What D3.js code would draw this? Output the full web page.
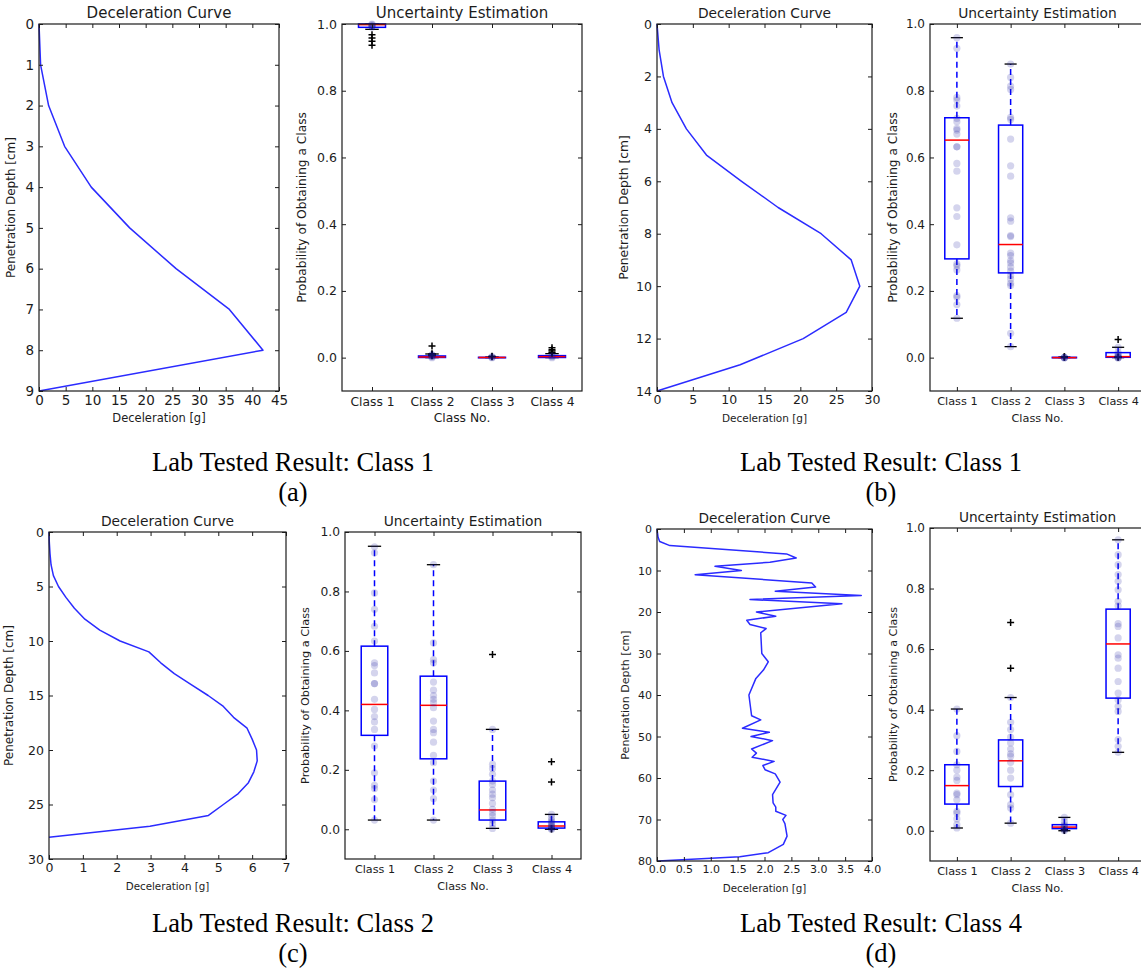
<!DOCTYPE html>
<html>
<head>
<meta charset="utf-8">
<script src="https://cdnjs.cloudflare.com/ajax/libs/d3/7.8.5/d3.min.js"></script>
<style>
  body { margin: 0; background: #fff; }
  .caption { font-family: "Liberation Serif", "Times New Roman", serif; fill: #000; }
</style>
</head>
<body>
<div id="chart"></div>
<script>
// ---- data ----
const classes = ["Class 1", "Class 2", "Class 3", "Class 4"];
const captions = ["Lab Tested Result: Class 1", "Lab Tested Result: Class 1", "Lab Tested Result: Class 2", "Lab Tested Result: Class 4"];
const panelLetters = ["(a)", "(b)", "(c)", "(d)"];

// deceleration curves: depth [cm] vs deceleration [g]
const depthA = [0, 1, 2, 3, 4, 5, 6, 7, 8, 9];
const decelA = [0, 0.3, 1.8, 4.8, 9.8, 17, 25.7, 35.7, 42, 0];

const depthB = [0, 1, 2, 3, 4, 5, 6, 7, 8, 9, 10, 11, 12, 13, 14];
const decelB = [0, 0.3, 0.9, 2.1, 4.1, 6.9, 11.8, 16.9, 22.9, 27.1, 28.3, 26.4, 20.4, 11.6, 0];

const depthC = [0, 1, 2, 3, 4, 5, 6, 7, 8, 9, 10, 11, 12, 13, 14, 15, 16, 17, 18, 19, 20, 21, 22, 23, 24, 25, 26, 27, 28];
const decelC = [0, 0.01, 0.03, 0.06, 0.13, 0.28, 0.5, 0.75, 1.06, 1.5, 2.1, 2.95, 3.3, 3.7, 4.2, 4.7, 5.15, 5.45, 5.85, 6.0, 6.13, 6.15, 6.05, 5.89, 5.59, 5.15, 4.71, 2.98, 0];

const depthD = [0, 2, 3, 4, 6, 7, 8, 9, 10, 11, 13, 14, 15, 16, 17, 18, 20, 21, 22, 23,
                24, 25, 30, 32, 34, 36, 40, 45, 46, 48, 49, 50, 51, 53, 54, 55, 56, 57, 58, 59,
                61, 64, 66, 67, 68, 69, 70, 71, 74, 76, 78, 79, 80];
const decelD = [0, 0.02, 0.05, 0.24, 2.41, 2.59, 2.1, 1.08, 1.57, 0.71, 2.88, 2.95, 2.2, 3.8, 1.73, 3.44, 1.85, 2.21, 1.67, 1.73,
                2.03, 1.93, 1.95, 2.07, 1.98, 1.84, 1.71, 1.76, 1.93, 1.59, 2.09, 1.75, 2.15, 1.76, 1.85, 1.77, 2.18, 1.97, 2.01, 2.2,
                2.29, 2.15, 2.16, 2.21, 2.21, 2.40, 2.34, 2.38, 2.42, 2.35, 2.07, 1.54, 0.02];

// box stats per class: [lower whisker, q1, median, q3, upper whisker]
const boxA = [[0.984, 0.990, 0.998, 1.0, 1.0], [0, 0.0005, 0.002, 0.005, 0.011], [0, 0, 0.0005, 0.001, 0.002], [0, 0.0005, 0.003, 0.006, 0.012]];
const boxB = [[0.118, 0.296, 0.652, 0.719, 0.959], [0.033, 0.254, 0.339, 0.697, 0.88], [0, 0, 0, 0.001, 0.002], [0, 0.001, 0.003, 0.015, 0.031]];
const boxC = [[0.031, 0.316, 0.42, 0.616, 0.952], [0.031, 0.237, 0.417, 0.515, 0.89], [0.003, 0.031, 0.065, 0.162, 0.336], [0, 0.004, 0.011, 0.025, 0.05]];
const boxD = [[0.009, 0.088, 0.149, 0.218, 0.402], [0.025, 0.146, 0.231, 0.3, 0.44], [0, 0.007, 0.012, 0.02, 0.044], [0.259, 0.438, 0.617, 0.732, 0.961]];

// outliers ('+')
const fliersA = [[0.968, 0.958, 0.948, 0.936], [0.035, 0.012, 0.01, 0.008, 0.006], [0.004, 0.003], [0.03, 0.024, 0.02, 0.015, 0.013]];
const fliersB = [[], [], [0.003, 0.002, 0.001], [0.054, 0.002, 0.001]];
const fliersC = [[], [], [0.588], [0.227, 0.159, 0.002, 0.001]];
const fliersD = [[], [0.688, 0.537], [0.003, 0.002, 0.001], []];

// individual samples (faint dots)
const samplesA = [[0.994, 0.994, 0.994, 0.998, 1.0, 0.99], [0, 0.002, 0.005, 0.008, 0.008], [0, 0.001, 0.003], [0, 0.003, 0.006]];
const samplesB = [
  [0.959, 0.927, 0.78, 0.772, 0.754, 0.717, 0.707, 0.687, 0.682, 0.67, 0.632, 0.632, 0.582, 0.559, 0.449, 0.423, 0.338, 0.281, 0.275, 0.263, 0.186, 0.181, 0.159, 0.118],
  [0.88, 0.84, 0.814, 0.804, 0.72, 0.714, 0.655, 0.575, 0.544, 0.419, 0.409, 0.366, 0.363, 0.313, 0.306, 0.291, 0.284, 0.271, 0.259, 0.246, 0.236, 0.223, 0.216, 0.073, 0.033],
  [0, 0, 0, 0.001],
  [0.031, 0.015, 0.01, 0.005, 0.003, 0, 0, 0]
];
const samplesC = [
  [0.95, 0.93, 0.795, 0.74, 0.683, 0.633, 0.56, 0.551, 0.526, 0.49, 0.49, 0.437, 0.403, 0.379, 0.361, 0.336, 0.28, 0.19, 0.148, 0.137, 0.1, 0.031],
  [0.89, 0.627, 0.571, 0.56, 0.495, 0.468, 0.45, 0.437, 0.426, 0.409, 0.364, 0.336, 0.325, 0.293, 0.249, 0.224, 0.162, 0.132, 0.103, 0.031],
  [0.336, 0.218, 0.204, 0.185, 0.162, 0.151, 0.132, 0.118, 0.106, 0.087, 0.067, 0.056, 0.045, 0.031, 0.017, 0.003],
  [0.05, 0.04, 0.03, 0.025, 0.02, 0.015, 0.011, 0.008, 0.005, 0.002, 0]
];
const samplesD = [
  [0.402, 0.314, 0.262, 0.218, 0.2, 0.177, 0.166, 0.124, 0.119, 0.102, 0.064, 0.058, 0.039, 0.02, 0.009],
  [0.44, 0.358, 0.334, 0.309, 0.29, 0.27, 0.254, 0.246, 0.226, 0.2, 0.174, 0.119, 0.086, 0.075, 0.025],
  [0.044, 0.03, 0.02, 0.015, 0.012, 0.007, 0.003, 0],
  [0.961, 0.912, 0.879, 0.846, 0.824, 0.796, 0.758, 0.743, 0.684, 0.675, 0.637, 0.581, 0.57, 0.537, 0.493, 0.455, 0.433, 0.411, 0.394, 0.301, 0.279, 0.259]
];

// ---- layout (font sizes differ a little because the sub-figures were rescaled) ----
const panels = [
  { depth: depthA, decel: decelA, box: boxA, fliers: fliersA, samples: samplesA,
    dc: { l: 39, t: 24, r: 279, b: 391 }, bx: { l: 342, t: 24, r: 582, b: 391 },
    xMax: 45, xTicks: d3.range(0, 46, 5), xFmt: d3.format("d"), yMax: 9, yTicks: d3.range(0, 10),
    tfs: 15, fs: 13.5, bfs: 12.5, xl: 11.5, yl: 12, byf: 12.2, cls: 12.3,
    dyl: 24, byl: 36, cx: 293, cy: 471 },
  { depth: depthB, decel: decelB, box: boxB, fliers: fliersB, samples: samplesB,
    dc: { l: 657, t: 24, r: 872, b: 391 }, bx: { l: 930, t: 24, r: 1145, b: 391 },
    xMax: 30, xTicks: d3.range(0, 31, 5), xFmt: d3.format("d"), yMax: 14, yTicks: d3.range(0, 15, 2),
    tfs: 13.8, fs: 12.5, bfs: 12, xl: 10.5, yl: 12.3, byf: 12.2, cls: 11.3,
    dyl: 29, byl: 33, cx: 881, cy: 471 },
  { depth: depthC, decel: decelC, box: boxC, fliers: fliersC, samples: samplesC,
    dc: { l: 49, t: 532, r: 286, b: 859 }, bx: { l: 345, t: 532, r: 581, b: 859 },
    xMax: 7, xTicks: d3.range(0, 8), xFmt: d3.format("d"), yMax: 30, yTicks: d3.range(0, 31, 5),
    tfs: 13.8, fs: 12.5, bfs: 12.3, xl: 10.3, yl: 12, byf: 11.3, cls: 11.2,
    dyl: 36, byl: 36, cx: 293, cy: 932 },
  { depth: depthD, decel: decelD, box: boxD, fliers: fliersD, samples: samplesD,
    dc: { l: 657, t: 529, r: 872, b: 861 }, bx: { l: 930, t: 528, r: 1145, b: 861 },
    xMax: 4, xTicks: d3.range(0, 4.01, 0.5), xFmt: d3.format(".1f"), yMax: 80, yTicks: d3.range(0, 81, 10),
    tfs: 13.7, fs: 11, bfs: 12, xl: 10.3, yl: 11, byf: 11.2, cls: 11.3,
    dyl: 28, byl: 33, cx: 881, cy: 932 }
];

const svg = d3.select("#chart").append("svg")
    .attr("width", 1141)
    .attr("height", 972)
    .style("background", "#fff");

const FONT = "DejaVu Sans, sans-serif";
const INK = "#1c1c1c";

// strip the d3 defaults so axes look like matplotlib's classic frame
function tidy(sel, fs) {
  sel.select(".domain").remove();
  sel.attr("font-family", FONT).attr("font-size", fs);
  sel.selectAll("line").attr("stroke", INK);
  sel.selectAll("text").attr("fill", INK);
}

// four-sided frame with inward ticks
function drawFrame(g, p, x, y, xVals, xFmt, yVals, yFmt, xfs, yfs, xPad) {
  g.append("g").attr("transform", `translate(0,${p.b})`)
    .call(d3.axisBottom(x).tickValues(xVals).tickFormat(xFmt).tickSize(-4).tickSizeOuter(0).tickPadding(xPad))
    .call(tidy, xfs);
  g.append("g").attr("transform", `translate(0,${p.t})`)
    .call(d3.axisTop(x).tickValues(xVals).tickFormat("").tickSize(-4).tickSizeOuter(0))
    .call(tidy, xfs);
  g.append("g").attr("transform", `translate(${p.l},0)`)
    .call(d3.axisLeft(y).tickValues(yVals).tickFormat(yFmt).tickSize(-4).tickSizeOuter(0).tickPadding(5))
    .call(tidy, yfs);
  g.append("g").attr("transform", `translate(${p.r},0)`)
    .call(d3.axisRight(y).tickValues(yVals).tickFormat("").tickSize(-4).tickSizeOuter(0))
    .call(tidy, yfs);
  g.append("rect")
    .attr("x", p.l).attr("y", p.t)
    .attr("width", p.r - p.l).attr("height", p.b - p.t)
    .attr("fill", "none").attr("stroke", INK).attr("stroke-width", 1.2);
}

function label(g, txt, x, y, fs, rotate) {
  const t = g.append("text")
    .attr("text-anchor", "middle")
    .attr("font-family", FONT)
    .attr("font-size", fs)
    .attr("fill", INK)
    .text(txt);
  if (rotate) t.attr("transform", `translate(${x},${y}) rotate(-90)`);
  else t.attr("x", x).attr("y", y);
}

panels.forEach((P, pi) => {
  const g = svg.append("g");

  // ---- deceleration curve ----
  const d = P.dc;
  const x = d3.scaleLinear().domain([0, P.xMax]).range([d.l, d.r]);
  const y = d3.scaleLinear().domain([0, P.yMax]).range([d.t, d.b]);

  const line = d3.line()
    .x(v => x(v))
    .y((v, i) => y(P.depth[i]));

  g.append("path")
    .datum(P.decel)
    .attr("d", line)
    .attr("fill", "none")
    .attr("stroke", "#2b2bff")
    .attr("stroke-width", 1.5)
    .attr("stroke-linejoin", "round");

  drawFrame(g, d, x, y, P.xTicks, P.xFmt, P.yTicks, d3.format("d"), P.fs, P.fs, 4);
  label(g, "Deceleration Curve", (d.l + d.r) / 2, d.t - 6, P.tfs);
  label(g, "Deceleration [g]", (d.l + d.r) / 2, d.b + 31, P.xl);
  label(g, "Penetration Depth [cm]", d.l - P.dyl, (d.t + d.b) / 2, P.yl, true);

  // ---- uncertainty box plot ----
  const b = P.bx;
  const bxs = d3.scaleLinear().domain([0.5, 4.5]).range([b.l, b.r]);
  const bys = d3.scaleLinear().domain([-0.1, 1.0]).range([b.b, b.t]);
  const step = bxs(2) - bxs(1);
  const hw = step * 0.225;   // half box width
  const cw = hw / 2;         // half cap width

  const bg = g.append("g");
  P.box.forEach((s, i) => {
    const cx = bxs(i + 1);
    const [lo, q1, med, q3, hi] = s;
    // whiskers
    [[q3, hi], [q1, lo]].forEach(([a, c]) => {
      bg.append("line")
        .attr("x1", cx).attr("x2", cx)
        .attr("y1", bys(a)).attr("y2", bys(c))
        .attr("stroke", "#0000ff").attr("stroke-width", 1.5)
        .attr("stroke-dasharray", "6,4");
    });
    // caps
    [lo, hi].forEach(v => {
      bg.append("line")
        .attr("x1", cx - cw).attr("x2", cx + cw)
        .attr("y1", bys(v)).attr("y2", bys(v))
        .attr("stroke", "#000").attr("stroke-width", 1.3);
    });
    // box
    bg.append("rect")
      .attr("x", cx - hw).attr("width", hw * 2)
      .attr("y", bys(q3)).attr("height", Math.max(bys(q1) - bys(q3), 0.5))
      .attr("fill", "none").attr("stroke", "#0000ff").attr("stroke-width", 1.5);
    // median
    bg.append("line")
      .attr("x1", cx - hw).attr("x2", cx + hw)
      .attr("y1", bys(med)).attr("y2", bys(med))
      .attr("stroke", "#ff0000").attr("stroke-width", 1.5);
    // outliers
    P.fliers[i].forEach(v => {
      bg.append("path")
        .attr("d", `M${cx - 3.5},${bys(v)}h7M${cx},${bys(v) - 3.5}v7`)
        .attr("stroke", "#000").attr("stroke-width", 1.5);
    });
    // individual samples
    bg.selectAll(null)
      .data(P.samples[i])
      .enter().append("circle")
      .attr("cx", cx)
      .attr("cy", v => bys(v))
      .attr("r", 3.6)
      .attr("fill", "#1a1aa0")
      .attr("fill-opacity", 0.19);
  });

  drawFrame(g, b, bxs, bys, [1, 2, 3, 4], i => classes[i - 1],
            d3.range(0, 1.01, 0.2), d3.format(".1f"), P.cls, P.bfs, 6);
  label(g, "Uncertainty Estimation", (b.l + Math.min(b.r, 1141)) / 2 + (b.r > 1141 ? 2 : 0), b.t - 6, P.tfs);
  label(g, "Class No.", bxs(2.5), b.b + 31, P.cls);
  label(g, "Probability of Obtaining a Class", b.l - P.byl, (b.t + b.b) / 2, P.byf, true);

  // ---- captions ----
  svg.append("text").attr("class", "caption")
    .attr("x", P.cx).attr("y", P.cy)
    .attr("text-anchor", "middle").attr("font-size", 26.5)
    .text(captions[pi]);
  svg.append("text").attr("class", "caption")
    .attr("x", P.cx).attr("y", P.cy + 30)
    .attr("text-anchor", "middle").attr("font-size", 26.5)
    .text(panelLetters[pi]);
});
</script>
</body>
</html>
